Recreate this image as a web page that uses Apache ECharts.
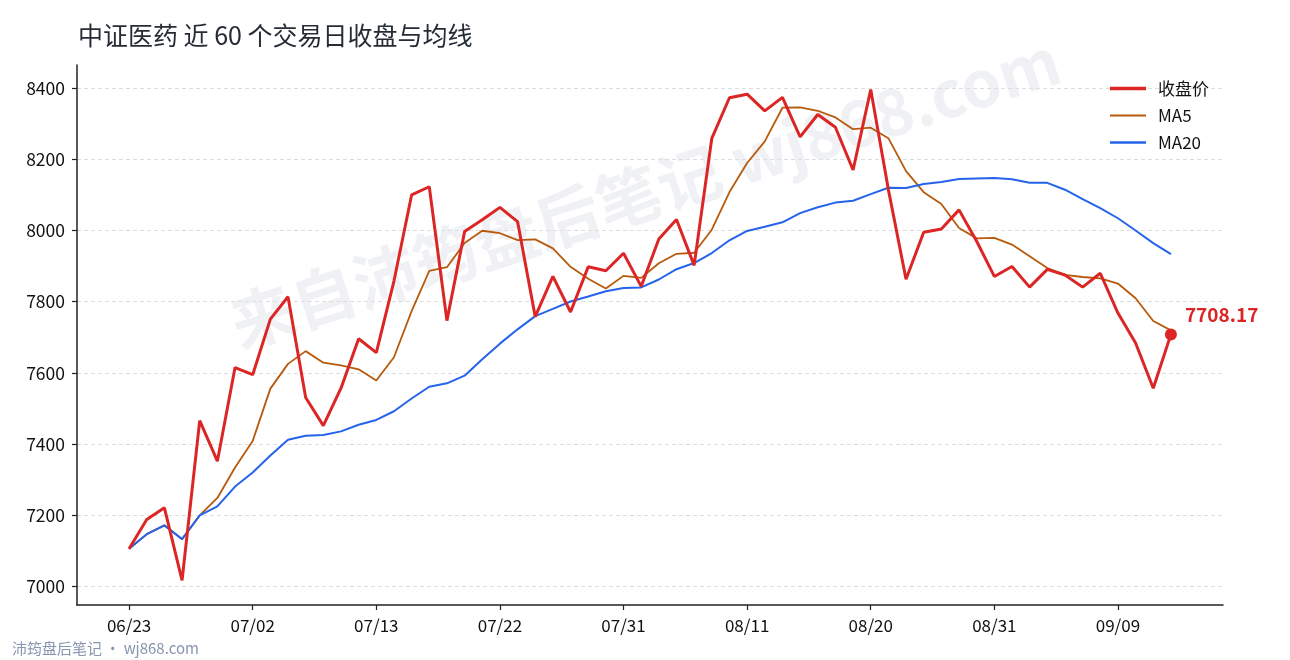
<!DOCTYPE html>
<html>
<head>
<meta charset="utf-8">
<script src="https://cdn.jsdelivr.net/npm/echarts@6/dist/echarts.min.js"></script>
<style>
html,body{margin:0;padding:0;background:#fff;}
#chart{width:1290px;height:660px;}
</style>
</head>
<body>
<div id="chart"></div>
<script>
const dates = ["06/23","06/24","06/25","06/26","06/27","06/30","07/01","07/02","07/03","07/04",
"07/07","07/08","07/09","07/10","07/13","07/14","07/15","07/16","07/17","07/18",
"07/21","07/22","07/23","07/24","07/25","07/28","07/29","07/30","07/31","08/01",
"08/04","08/05","08/06","08/07","08/08","08/11","08/12","08/13","08/14","08/15",
"08/18","08/19","08/20","08/21","08/22","08/25","08/26","08/27","08/28","08/31",
"09/01","09/02","09/03","09/04","09/05","09/08","09/09","09/10","09/11","09/12"];

const closeValues = [7106,7188,7221,7017,7466,7352,7615,7595,7751,7814,
7531,7452,7557,7696,7657,7858,8100,8123,7747,7997,
8030,8065,8025,7758,7871,7771,7898,7887,7936,7843,
7976,8031,7902,8259,8373,8383,8336,8374,8263,8326,
8290,8170,8396,8115,7863,7995,8004,8058,7970,7871,
7899,7841,7891,7875,7841,7880,7768,7684,7557,7708.17];

const ma5Values = [7106,7147,7171.7,7133,7199.6,7248.8,7334.2,7409,7555.8,7625.4,
7661.2,7628.6,7621,7610,7578.6,7644,7773.6,7886.8,7897,7965,
7999.4,7992.4,7972.8,7975,7949.8,7898,7864.6,7837,7872.6,7867,
7908,7934.6,7937.6,8002.2,8108.2,8189.6,8250.6,8345,8345.8,8336.4,
8317.8,8284.6,8289,8259.4,8166.8,8107.8,8074.6,8007,7978,7979.6,
7960.4,7927.8,7894.4,7875.4,7869.4,7865.6,7851,7809.6,7746,7719.4];

const ma20Values = [7106,7147,7171.7,7133,7199.6,7225,7280.7,7320,7367.9,7412.5,
7423.3,7425.7,7435.8,7454.4,7467.9,7492.3,7528,7561.1,7570.8,7592.2,
7638.4,7682.2,7722.4,7759.5,7779.7,7800.7,7814.8,7829.4,7838.7,7840.1,
7862.4,7891.3,7908.6,7936.7,7972.5,7998.8,8010.6,8023.1,8048.9,8065.4,
8078.4,8083.6,8102.2,8120,8119.6,8130.8,8136.1,8144.7,8146.4,8147.8,
8143.9,8134.4,8133.9,8114.7,8088.1,8062.9,8034.5,8000,7964.7,7933.8];

const yTicks = [7000,7200,7400,7600,7800,8000,8200,8400];
const xTickIdx = [0,7,14,21,28,35,42,49,56];

const FONT = '"Noto Sans CJK SC", "Noto Sans", sans-serif';
const toPairs = arr => arr.map((v, i) => [i, v]);
const last = closeValues.length - 1;

const COLORS = { close: '#dc2626', ma5: '#b85a0c', ma20: '#2563eb' };

function legendOf(name, top, h) {
  return {
    orient: 'vertical', left: 1105, top: top,
    itemWidth: 36, itemHeight: h, icon: 'rect',
    data: [name],
    textStyle: { fontSize: 17, color: '#111', fontFamily: FONT, padding: [0, 0, 0, 7] }
  };
}

const chart = echarts.init(document.getElementById('chart'));
chart.setOption({
  animation: false,
  backgroundColor: '#ffffff',
  textStyle: { fontFamily: FONT },
  title: {
    text: '中证医药 近 60 个交易日收盘与均线',
    left: 73, top: 18,
    textStyle: { fontSize: 25, fontWeight: 'normal', color: '#262c36', fontFamily: FONT }
  },
  legend: [
    legendOf('收盘价', 75, 3.5),
    legendOf('MA5', 102, 2.2),
    legendOf('MA20', 129, 2.4)
  ],
  grid: { left: 77, right: 67, top: 65, bottom: 55 },
  xAxis: {
    type: 'value',
    min: -2.95, max: 61.95,
    axisLine: { show: true, onZero: false, lineStyle: { color: '#222', width: 1.5 } },
    axisTick: { show: true, length: 5, customValues: xTickIdx, lineStyle: { color: '#222', width: 1.2 } },
    axisLabel: {
      customValues: xTickIdx,
      formatter: v => dates[Math.round(v)] || '',
      fontSize: 17, color: '#111', margin: 12, fontFamily: FONT
    },
    splitLine: { show: false }
  },
  yAxis: {
    type: 'value',
    min: 6948, max: 8465,
    axisLine: { show: true, onZero: false, lineStyle: { color: '#222', width: 1.5 } },
    axisTick: { show: true, length: 5, customValues: yTicks, lineStyle: { color: '#222', width: 1.2 } },
    axisLabel: { customValues: yTicks, formatter: v => String(v), fontSize: 17.5, color: '#111', margin: 12, fontFamily: FONT },
    splitLine: { show: true, lineStyle: { color: '#dedede', type: [4, 3], width: 1 } }
  },
  graphic: [
    {
      type: 'text',
      x: 645, y: 192, rotation: 18 * Math.PI / 180, silent: true, z: 0,
      style: {
        text: '来自沛筠盘后笔记 wj868.com',
        x: 0, y: 0, align: 'center', verticalAlign: 'middle',
        font: 'bold 64px ' + FONT,
        fill: 'rgba(110,125,160,0.11)'
      }
    },
    {
      type: 'text', x: 12, y: 648, silent: true,
      style: {
        text: '沛筠盘后笔记 · wj868.com',
        verticalAlign: 'middle',
        font: '15px ' + FONT,
        fill: '#8795b0'
      }
    }
  ],
  series: [
    {
      name: 'MA5', type: 'line', data: toPairs(ma5Values),
      symbol: 'none', z: 3,
      lineStyle: { color: COLORS.ma5, width: 1.8 },
      itemStyle: { color: COLORS.ma5 }
    },
    {
      name: 'MA20', type: 'line', data: toPairs(ma20Values),
      symbol: 'none', z: 4,
      lineStyle: { color: COLORS.ma20, width: 2 },
      itemStyle: { color: COLORS.ma20 }
    },
    {
      name: '收盘价', type: 'line', data: toPairs(closeValues),
      symbol: 'none', z: 5,
      lineStyle: { color: COLORS.close, width: 3 },
      itemStyle: { color: COLORS.close }
    },
    {
      name: 'last', type: 'scatter', z: 6,
      data: [[last, closeValues[last]]],
      symbolSize: 12,
      itemStyle: { color: COLORS.close, opacity: 1 },
      label: {
        show: true, position: 'right', distance: 8, offset: [0, -20],
        formatter: p => p.value[1].toFixed(2),
        fontSize: 19, fontWeight: 'bold', color: COLORS.close, fontFamily: FONT
      }
    }
  ]
});
</script>
</body>
</html>
